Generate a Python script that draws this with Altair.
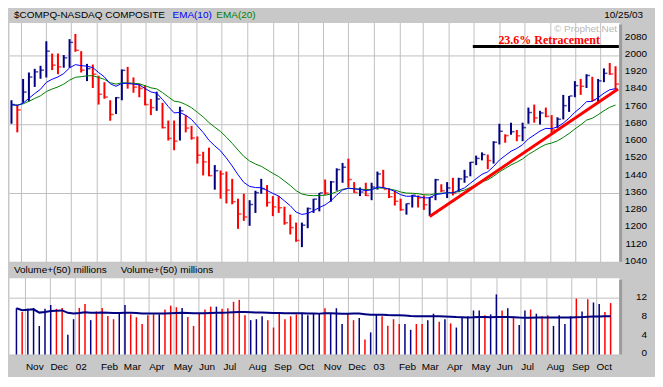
import altair as alt
import pandas as pd

# ---------------- data ----------------
week_start = pd.date_range("2001-10-21", periods=105, freq="7D").strftime("%Y-%m-%d").tolist()

high = [1790, 1770, 1889, 1919, 1936, 1950, 2064, 2007, 2007, 2000,
        2074, 2098, 2018, 1959, 1956, 1904, 1874, 1790, 1805, 1933,
        1945, 1896, 1867, 1859, 1796, 1830, 1778, 1696, 1696, 1760,
        1721, 1671, 1622, 1551, 1570, 1489, 1464, 1459, 1425, 1333,
        1356, 1326, 1370, 1425, 1396, 1345, 1345, 1296, 1259, 1222,
        1222, 1292, 1333, 1360, 1422, 1415, 1474, 1499, 1519, 1410,
        1385, 1407, 1407, 1459, 1467, 1381, 1370, 1333, 1311, 1351,
        1348, 1348, 1341, 1425, 1400, 1410, 1430, 1430, 1467, 1504,
        1533, 1548, 1538, 1600, 1681, 1632, 1686, 1652, 1686, 1756,
        1770, 1741, 1756, 1721, 1711, 1815, 1810, 1879, 1889, 1911,
        1899, 1889, 1938, 1963, 1948]

low = [1681, 1641, 1778, 1785, 1852, 1890, 1896, 1930, 1911, 1941,
       1941, 2015, 1919, 1879, 1847, 1770, 1797, 1695, 1726, 1790,
       1844, 1825, 1804, 1766, 1721, 1741, 1659, 1603, 1558, 1603,
       1641, 1607, 1496, 1441, 1437, 1375, 1333, 1311, 1307, 1193,
       1230, 1207, 1267, 1356, 1296, 1252, 1267, 1212, 1167, 1133,
       1108, 1196, 1267, 1274, 1351, 1319, 1370, 1407, 1385, 1360,
       1345, 1345, 1326, 1375, 1381, 1336, 1301, 1277, 1259, 1292,
       1292, 1281, 1252, 1326, 1363, 1336, 1348, 1363, 1407, 1437,
       1489, 1511, 1470, 1496, 1585, 1593, 1630, 1600, 1600, 1681,
       1686, 1677, 1711, 1637, 1662, 1701, 1736, 1804, 1815, 1847,
       1785, 1781, 1874, 1908, 1840]

close = [1770, 1745, 1828, 1898, 1922, 1930, 2018, 1953, 1945, 1987,
         2059, 2022, 1930, 1937, 1911, 1818, 1805, 1724, 1802, 1929,
         1868, 1851, 1845, 1770, 1756, 1796, 1663, 1613, 1600, 1741,
         1661, 1615, 1535, 1504, 1440, 1463, 1448, 1373, 1319, 1262,
         1248, 1306, 1361, 1380, 1315, 1295, 1291, 1221, 1199, 1139,
         1210, 1287, 1331, 1360, 1359, 1411, 1468, 1479, 1422, 1362,
         1364, 1348, 1387, 1448, 1376, 1342, 1321, 1282, 1310, 1349,
         1337, 1305, 1340, 1421, 1370, 1383, 1358, 1425, 1434, 1502,
         1520, 1538, 1510, 1595, 1646, 1626, 1644, 1625, 1663, 1733,
         1708, 1731, 1715, 1652, 1702, 1765, 1810, 1858, 1855, 1905,
         1792, 1880, 1915, 1912, 1865]

volume = [9.76, 8.95, 9.63, 9.83, 6.03, 9.63, 10.44, 9.63, 9.83, 4.19,
          7.45, 9.83, 10.64, 7.25, 9.08, 9.83, 8.13, 7.45, 8.61, 10.44,
          8.47, 7.86, 6.43, 8.27, 8.47, 8.47, 9.49, 10.31, 9.97, 9.83,
          7.93, 6.03, 8.61, 9.49, 10.10, 10.10, 9.63, 9.76, 11.12, 11.53,
          8.27, 7.25, 7.45, 8.06, 7.25, 5.69, 8.74, 7.45, 8.06, 8.47,
          8.81, 8.27, 8.61, 8.61, 9.76, 8.60, 9.76, 6.43, 8.61, 7.25,
          7.72, 3.17, 4.67, 8.40, 8.06, 6.09, 7.45, 6.43, 6.43, 5.21,
          6.43, 6.43, 7.25, 8.61, 6.91, 7.45, 6.57, 5.69, 7.93, 8.06,
          9.29, 9.29, 8.27, 8.47, 12.68, 9.29, 9.76, 8.06, 6.23, 9.29,
          9.49, 8.61, 8.06, 8.27, 6.03, 8.27, 6.43, 8.06, 11.80, 9.08,
          11.66, 10.98, 10.64, 8.95, 10.85]

trend_dates = ["2003-03-09", "2003-10-22"]
trend_values = [1250, 1842]

retr_dates = ["2003-04-30", "2003-10-23"]
retr_level = [2040, 2040]
retr_label = ["23.6% Retracement"]
retr_label_date = ["2003-07-31"]
retr_label_value = [2068]

price_ticks = list(range(1040, 2081, 80))
volume_ticks = [0, 4, 8, 12]


# ---------------- derived series (indicator definitions) ----------------
def ema(values, span):
    a = 2.0 / (span + 1)
    out = [values[0]]
    for v in values[1:]:
        out.append(out[-1] + a * (v - out[-1]))
    return out


direction = ["up"] + ["up" if close[i] >= close[i - 1] else "down" for i in range(1, len(close))]

df = pd.DataFrame({
    "week": week_start,
    "high": high,
    "low": low,
    "close": close,
    "volume": volume,
    "ema10": ema(close, 10),
    "ema20": ema(close, 20),
    "vma": pd.Series(volume).rolling(50, min_periods=1).mean().round(3),
    "dir": direction,
})
trend_df = pd.DataFrame({"week": trend_dates, "value": trend_values})
retr_df = pd.DataFrame({"start": [retr_dates[0]], "end": [retr_dates[1]], "level": [retr_level[0]]})
retr_text_df = pd.DataFrame({"week": retr_label_date, "value": retr_label_value, "label": retr_label})
ptick_df = pd.DataFrame({"tick": price_ticks})
vtick_df = pd.DataFrame({"tick": volume_ticks})
one = pd.DataFrame({"k": [0]})

# ---------------- style ----------------
FONT = "Liberation Sans"
BG = "#c8c8c8"
GRID = "#c0c0c0"
EDGE = "#9c9c9c"
NAVY = "#000080"
RED = "#ff0000"
W = 612
HP = 240
HV = 77
LABEL_X = W + 28

xscale = alt.Scale(
    type="utc",
    domain=[alt.DateTime(year=2001, month=10, date=18, utc=True),
            alt.DateTime(year=2003, month=10, date=23, hours=7, utc=True)],
)
month_step = alt.TimeIntervalStep(interval="month", step=1)

x_price = alt.X("week:T", scale=xscale,
                axis=alt.Axis(title=None, labels=False, ticks=False, domain=False, grid=True,
                              gridColor=GRID, tickCount=month_step))
x_vol = alt.X("week:T", scale=xscale,
              axis=alt.Axis(title=None, ticks=False, domain=False, grid=True, gridColor=GRID,
                            tickCount=month_step, labelAlign="left", labelBaseline="top",
                            labelPadding=7, labelFlush=False, labelOverlap=False,
                            labelFont=FONT, labelFontSize=10, labelColor="black",
                            labelExpr="utcFormat(datum.value, '%m') == '01' ? utcFormat(datum.value, '%y') : utcFormat(datum.value, '%b')"))

yscale_p = alt.Scale(domain=[1040, 2151], nice=False, zero=False)
y_price_axis = alt.Axis(title=None, orient="right", values=price_ticks, ticks=False, domain=False,
                        grid=True, gridColor=GRID, labels=False)

color = alt.Color("dir:N", scale=alt.Scale(domain=["up", "down"], range=[NAVY, RED]), legend=None)

base = alt.Chart(df)

bars = base.mark_rule(strokeWidth=2).encode(
    x=x_price,
    y=alt.Y("low:Q", scale=yscale_p, axis=y_price_axis),
    y2="high:Q",
    color=color,
)
ticks = base.mark_tick(orient="horizontal", size=3, thickness=1.5, xOffset=2).encode(
    x="week:T", y="close:Q", color=color)
ema20_line = base.mark_line(color="#008000", strokeWidth=1).encode(x="week:T", y="ema20:Q")
ema10_line = base.mark_line(color="#0000ff", strokeWidth=1).encode(x="week:T", y="ema10:Q")
trend = alt.Chart(trend_df).mark_line(color=RED, strokeWidth=3).encode(x="week:T", y="value:Q")
retr = alt.Chart(retr_df).mark_rule(color="black", strokeWidth=3).encode(
    x="start:T", x2="end:T", y="level:Q")
retr_text = alt.Chart(retr_text_df).mark_text(
    color=RED, font="Liberation Serif", fontWeight="bold", fontSize=12, baseline="middle"
).encode(x="week:T", y="value:Q", text="label:N")
price_labels = alt.Chart(ptick_df).mark_text(
    align="right", baseline="middle", font=FONT, fontSize=10, color="black", dy=-1
).encode(x=alt.value(LABEL_X), y="tick:Q", text=alt.Text("tick:Q", format="d"))


def label(txt, x, y, col="black", align="left", size=10):
    return alt.Chart(one).mark_text(text=txt, align=align, baseline="middle", font=FONT,
                                    fontSize=size, color=col).encode(x=alt.value(x), y=alt.value(y))


def edge(h):
    return alt.Chart(one).mark_rule(color=EDGE, strokeWidth=3).encode(
        x=alt.value(W + 1.5), y=alt.value(2), y2=alt.value(h))


h1 = label("$COMPQ-NASDAQ COMPOSITE", 5, -7.5)
h2 = label("EMA(10)", 164, -7.5, "#0000ff")
h3 = label("EMA(20)", 208, -7.5, "#008000")
h4 = label("10/25/03", W + 24, -7.5, align="right")
wm = label("\u00a9 Prophet.Net", W - 2, 6.5, "#b8b8b8", align="right")

price = alt.layer(retr, bars, ticks, ema20_line, ema10_line, trend, retr_text, price_labels,
                  edge(HP), h1, h2, h3, h4, wm).properties(width=W, height=HP)

vbars = base.mark_bar(width=1.5).encode(
    x=x_vol,
    y=alt.Y("volume:Q", scale=alt.Scale(domain=[0, 16.2], nice=False),
            axis=alt.Axis(title=None, orient="right", values=volume_ticks, ticks=False, domain=False,
                          grid=True, gridColor=GRID, labels=False)),
    color=color,
)
vma = base.mark_line(color=NAVY, strokeWidth=2).encode(x="week:T", y="vma:Q")
vol_labels = alt.Chart(vtick_df).mark_text(
    align="right", baseline="middle", font=FONT, fontSize=10, color="black", dy=-1
).encode(x=alt.value(LABEL_X), y="tick:Q", text=alt.Text("tick:Q", format="d"))
v1 = label("Volume+(50) millions", 5, -8)
v2 = label("Volume+(50) millions", 112, -8)

vol = alt.layer(vbars, vma, vol_labels, edge(HV), v1, v2).properties(width=W, height=HV)

chart = alt.vconcat(price, vol, spacing=16, bounds="flush").configure(
    background=BG,
    padding={"left": 0, "top": 1, "right": 7, "bottom": 4},
).configure_view(fill="white", stroke="transparent")

chart.save("out.html", embed_options={"renderer": "svg", "actions": False})
